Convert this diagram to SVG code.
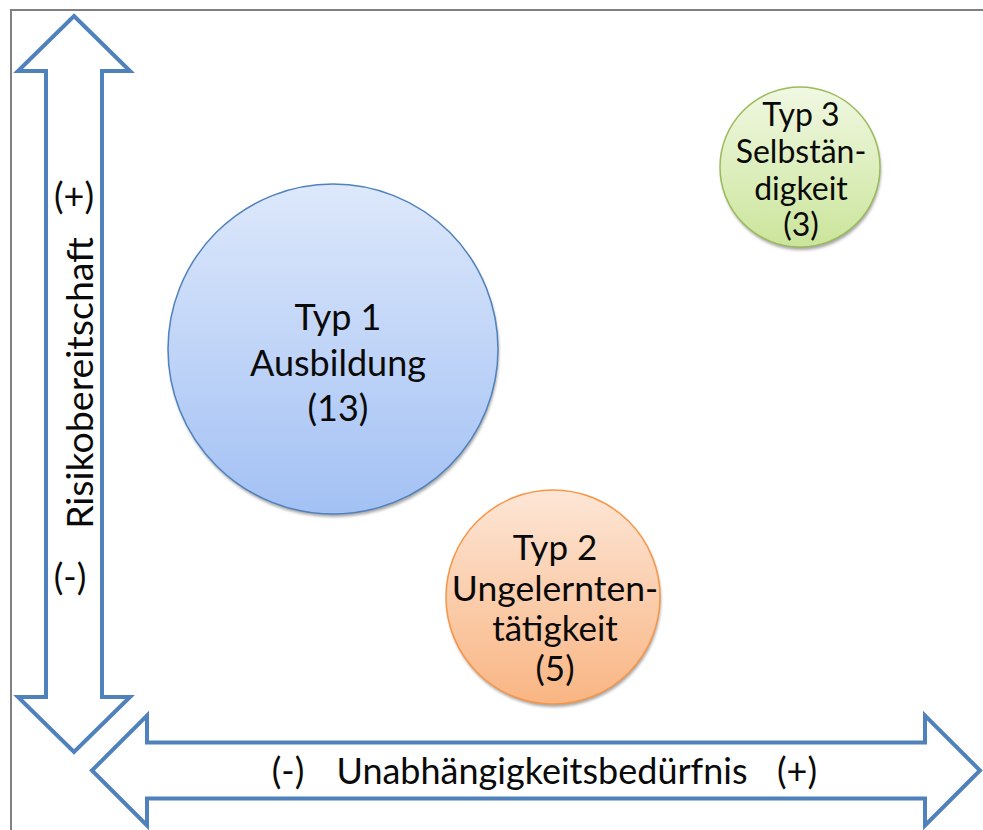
<svg xmlns="http://www.w3.org/2000/svg" width="983" height="830" viewBox="0 0 983 830">
<defs>
<linearGradient id="gBlue" x1="0" y1="0" x2="0" y2="1"><stop offset="0" stop-color="#DDE8FB"/><stop offset="1" stop-color="#A3C1F4"/></linearGradient>
<linearGradient id="gOrange" x1="0" y1="0" x2="0" y2="1"><stop offset="0" stop-color="#FDE6D6"/><stop offset="1" stop-color="#F9B583"/></linearGradient>
<linearGradient id="gGreen" x1="0" y1="0" x2="0" y2="1"><stop offset="0" stop-color="#F0F8E2"/><stop offset="1" stop-color="#CBE59B"/></linearGradient>
<filter id="sh" x="-10%" y="-10%" width="120%" height="125%"><feGaussianBlur stdDeviation="1.5"/></filter>
</defs>
<style>
.t{font-family:"Lato","Liberation Sans",sans-serif;fill:#0a0a0a;text-anchor:middle}
.arrow{fill:#fff;stroke:#4F81BD;stroke-width:4;stroke-linejoin:miter}
.shadow{fill:#000;opacity:0.35;filter:url(#sh)}
</style>
<rect width="983" height="830" fill="#fff"/>
<path d="M11,830 V10 H983" fill="none" stroke="#808080" stroke-width="2"/>
<g id="connectors">
<path class="arrow" d="M74,16 L130,71 L102,71 L102,697 L130,697 L74,752 L18,697 L46,697 L46,71 L18,71 Z"/>
<path class="arrow" d="M92,770.5 L147,715.5 L147,742.5 L925,742.5 L925,715.5 L980,770.5 L925,825.5 L925,798.5 L147,798.5 L147,825.5 Z"/>
</g>
<g id="axis-y">
<text class="t" x="74" y="209" font-size="36">(+)</text>
<text class="t" transform="translate(93,383) rotate(-90)" font-size="37.5">Risikobereitschaft</text>
<text class="t" x="70" y="590" font-size="36">(-)</text>
</g>
<g id="axis-x">
<text class="t" x="288" y="784" font-size="36">(-)</text>
<text class="t" x="542" y="784" font-size="36">Unabhängigkeitsbedürfnis</text>
<text class="t" x="797" y="784" font-size="36">(+)</text>
</g>
<g id="typ1">
<circle class="shadow" cx="334" cy="352" r="165"/>
<circle cx="333" cy="349" r="165" fill="url(#gBlue)" stroke="#4F81BD" stroke-width="1.5"/>
<text class="t" x="338" y="330" font-size="36">Typ 1</text>
<text class="t" x="338" y="376" font-size="36">Ausbildung</text>
<text class="t" x="338" y="421" font-size="36">(13)</text>
</g>
<g id="typ2">
<circle class="shadow" cx="554" cy="600" r="107"/>
<circle cx="553" cy="597" r="107" fill="url(#gOrange)" stroke="#F79646" stroke-width="1.5"/>
<text class="t" x="555" y="560" font-size="35">Typ 2</text>
<text class="t" x="555" y="601" font-size="35.5">Ungelernten-</text>
<text class="t" x="555" y="641" font-size="35">tätigkeit</text>
<text class="t" x="555" y="681" font-size="35">(5)</text>
</g>
<g id="typ3">
<circle class="shadow" cx="801" cy="170" r="80"/>
<circle cx="800" cy="167" r="80" fill="url(#gGreen)" stroke="#9BBB59" stroke-width="1.5"/>
<text class="t" x="801" y="126" font-size="32">Typ 3</text>
<text class="t" x="801" y="163" font-size="32">Selbstän-</text>
<text class="t" x="801" y="200" font-size="32">digkeit</text>
<text class="t" x="801" y="236" font-size="32">(3)</text>
</g>
</svg>
